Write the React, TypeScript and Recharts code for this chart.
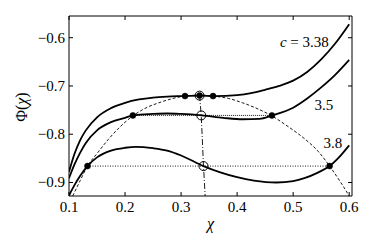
import { ComposedChart, Line, ReferenceDot, XAxis, YAxis } from 'recharts'

// Free energy curves Φ(χ) for three values of c, with the envelope through
// the coexistence points and the tie lines.

const FONT = "'Liberation Serif', 'DejaVu Serif', serif"
const INK = '#000'
const TICK_LEN = 4
const textStyle = { fontFamily: FONT, whiteSpace: 'pre' as const }

const chiTicks = [0.1, 0.2, 0.3, 0.4, 0.5, 0.6]
const phiTicks = [-0.9, -0.8, -0.7, -0.6]

const chi338 = [0.1, 0.105, 0.11, 0.12, 0.13, 0.15, 0.175, 0.2, 0.225, 0.25, 0.275, 0.3, 0.333, 0.36, 0.4, 0.425, 0.45, 0.475, 0.5, 0.525, 0.55, 0.575, 0.6]
const phi338 = [-0.878, -0.858, -0.84, -0.812, -0.792, -0.765, -0.746, -0.735, -0.728, -0.724, -0.722, -0.721, -0.72, -0.721, -0.719, -0.715, -0.708, -0.7, -0.689, -0.671, -0.645, -0.612, -0.572]

const chi35 = [0.1, 0.11, 0.12, 0.13, 0.15, 0.175, 0.2, 0.214, 0.25, 0.275, 0.3, 0.337, 0.375, 0.41, 0.44, 0.462, 0.5, 0.525, 0.55, 0.575, 0.6]
const phi35 = [-0.891, -0.862, -0.838, -0.818, -0.792, -0.775, -0.766, -0.761, -0.758, -0.757, -0.758, -0.761, -0.766, -0.769, -0.768, -0.761, -0.745, -0.726, -0.703, -0.677, -0.646]

const chi38 = [0.1, 0.11, 0.12, 0.133, 0.15, 0.175, 0.2, 0.22, 0.25, 0.275, 0.3, 0.34, 0.37, 0.4, 0.43, 0.47, 0.5, 0.52, 0.545, 0.565, 0.58, 0.6]
const phi38 = [-0.927, -0.905, -0.886, -0.866, -0.848, -0.834, -0.828, -0.826, -0.829, -0.834, -0.844, -0.866, -0.879, -0.889, -0.896, -0.9, -0.897, -0.891, -0.879, -0.866, -0.85, -0.823]

// envelope through the coexistence points (dashed)
const chiEnv = [0.1066, 0.12, 0.133, 0.15, 0.17, 0.19, 0.214, 0.24, 0.26, 0.285, 0.307, 0.333, 0.357, 0.385, 0.41, 0.432, 0.462, 0.492, 0.521, 0.545, 0.565, 0.585, 0.6]
const phiEnv = [-0.928, -0.896, -0.866, -0.84, -0.811, -0.786, -0.762, -0.744, -0.735, -0.726, -0.721, -0.719, -0.721, -0.726, -0.735, -0.745, -0.762, -0.785, -0.81, -0.836, -0.866, -0.9, -0.928]

// dash-dot line through the tie-line midpoints
const chiMid = [0.333, 0.336, 0.34, 0.343]
const phiMid = [-0.719, -0.761, -0.866, -0.928]

// tie lines (dotted)
const tie35Chi = [0.214, 0.462]
const tie35Phi = [-0.761, -0.761]
const tie38Chi = [0.133, 0.565]
const tie38Phi = [-0.866, -0.866]

// coexistence points (filled) and midpoints (open)
const dotChi = [0.307, 0.333, 0.357, 0.214, 0.462, 0.133, 0.565]
const dotPhi = [-0.721, -0.72, -0.721, -0.761, -0.761, -0.866, -0.866]
const ringChi = [0.333, 0.336, 0.34]
const ringPhi = [-0.72, -0.761, -0.866]

const curveLabels = ['c = 3.38', '3.5', '3.8']
const labelChi = [0.52, 0.555, 0.571]
const labelPhi = [-0.609, -0.740, -0.818]

const pts = (xs: number[], ys: number[]) => xs.map((x, i) => ({ x, y: ys[i] }))

const fmt = (v: number) => (v < 0 ? '\u2212' + Math.abs(v).toFixed(1) : v.toFixed(1))

function BottomTick({ x, y, payload }: any) {
	return (
		<g>
			<line x1={x} x2={x} y1={y} y2={y - TICK_LEN} stroke={INK} />
			<text x={x} y={y + 16} textAnchor="middle" style={textStyle} fontSize={15} fill={INK}>
				{fmt(payload.value)}
			</text>
		</g>
	)
}

function LeftTick({ x, y, payload }: any) {
	return (
		<g>
			<line x1={x} x2={x + TICK_LEN} y1={y} y2={y} stroke={INK} />
			<text x={x - 4} y={y + 5} textAnchor="end" style={textStyle} fontSize={15} fill={INK}>
				{fmt(payload.value)}
			</text>
		</g>
	)
}

function TopTick({ x, y }: any) {
	return <line x1={x} x2={x} y1={y} y2={y + TICK_LEN} stroke={INK} />
}

function RightTick({ x, y }: any) {
	return <line x1={x} x2={x - TICK_LEN} y1={y} y2={y} stroke={INK} />
}

function XLabel({ viewBox }: any) {
	return (
		<text x={viewBox.x + viewBox.width / 2} y={viewBox.y + 33} textAnchor="middle" style={textStyle} fontSize={16} fontStyle="italic" fill={INK}>
			χ
		</text>
	)
}

function YLabel() {
	const cx = 21
	const cy = 107
	return (
		<text x={cx} y={cy} transform={`rotate(-90, ${cx}, ${cy})`} textAnchor="middle" dominantBaseline="central" style={textStyle} fontSize={16} fill={INK}>
			Φ(<tspan fontStyle="italic">χ</tspan>)
		</text>
	)
}

function CurveLabel({ viewBox, text }: any) {
	const italicC = text.startsWith('c ')
	return (
		<text x={viewBox.x} y={viewBox.y} textAnchor="middle" dominantBaseline="central" style={textStyle} fontSize={15} fill={INK}>
			{italicC ? (
				<>
					<tspan fontStyle="italic">c</tspan>
					{text.slice(1)}
				</>
			) : (
				text
			)}
		</text>
	)
}

const xDomain: [number, number] = [0.1, 0.605]
const yDomain: [number, number] = [-0.928, -0.555]

export default function App() {
	return (
		<div style={{ position: 'absolute', left: 0, top: 0 }}>
			<ComposedChart width={374} height={249} margin={{ top: 16, right: 22, bottom: 23, left: 9 }}>
				<XAxis type="number" dataKey="x" domain={xDomain} ticks={chiTicks} allowDataOverflow height={30} tickSize={0} tickMargin={0} tickLine={false} tick={<BottomTick />} axisLine={{ stroke: INK }} label={<XLabel />} />
				<XAxis xAxisId="top" orientation="top" mirror type="number" dataKey="x" domain={xDomain} ticks={chiTicks} allowDataOverflow tickSize={0} tickMargin={0} tickLine={false} tick={<TopTick />} axisLine={{ stroke: INK }} />
				<YAxis type="number" dataKey="y" domain={yDomain} ticks={phiTicks} allowDataOverflow width={60} tickSize={0} tickMargin={0} tickLine={false} tick={<LeftTick />} axisLine={{ stroke: INK }} label={<YLabel />} />
				<YAxis yAxisId="right" orientation="right" mirror type="number" dataKey="y" domain={yDomain} ticks={phiTicks} allowDataOverflow tickSize={0} tickMargin={0} tickLine={false} tick={<RightTick />} axisLine={{ stroke: INK }} />

				<Line data={pts(chiEnv, phiEnv)} dataKey="y" type="monotone" stroke={INK} strokeWidth={0.9} strokeDasharray="3 2" dot={false} activeDot={false} isAnimationActive={false} />
				<Line data={pts(chiMid, phiMid)} dataKey="y" type="linear" stroke={INK} strokeWidth={0.9} strokeDasharray="6 2 1 2" dot={false} activeDot={false} isAnimationActive={false} />
				<Line data={pts(tie35Chi, tie35Phi)} dataKey="y" type="linear" stroke={INK} strokeWidth={0.9} strokeDasharray="1 1" dot={false} activeDot={false} isAnimationActive={false} />
				<Line data={pts(tie38Chi, tie38Phi)} dataKey="y" type="linear" stroke={INK} strokeWidth={0.9} strokeDasharray="1 1.5" dot={false} activeDot={false} isAnimationActive={false} />

				<Line data={pts(chi338, phi338)} dataKey="y" type="monotone" stroke={INK} strokeWidth={1.8} dot={false} activeDot={false} isAnimationActive={false} />
				<Line data={pts(chi35, phi35)} dataKey="y" type="monotone" stroke={INK} strokeWidth={1.8} dot={false} activeDot={false} isAnimationActive={false} />
				<Line data={pts(chi38, phi38)} dataKey="y" type="monotone" stroke={INK} strokeWidth={1.8} dot={false} activeDot={false} isAnimationActive={false} />

				<Line data={pts(ringChi, ringPhi)} dataKey="y" stroke="none" dot={{ r: 4.5, fill: 'none', stroke: INK, strokeWidth: 1 }} activeDot={false} isAnimationActive={false} />
				<Line data={pts(dotChi, dotPhi)} dataKey="y" stroke="none" dot={{ r: 3, fill: INK, stroke: INK, strokeWidth: 0.5 }} activeDot={false} isAnimationActive={false} />

				{curveLabels.map((t, i) => (
					<ReferenceDot key={t} x={labelChi[i]} y={labelPhi[i]} r={0} stroke="none" fill="none" label={<CurveLabel text={t} />} />
				))}
			</ComposedChart>
		</div>
	)
}
